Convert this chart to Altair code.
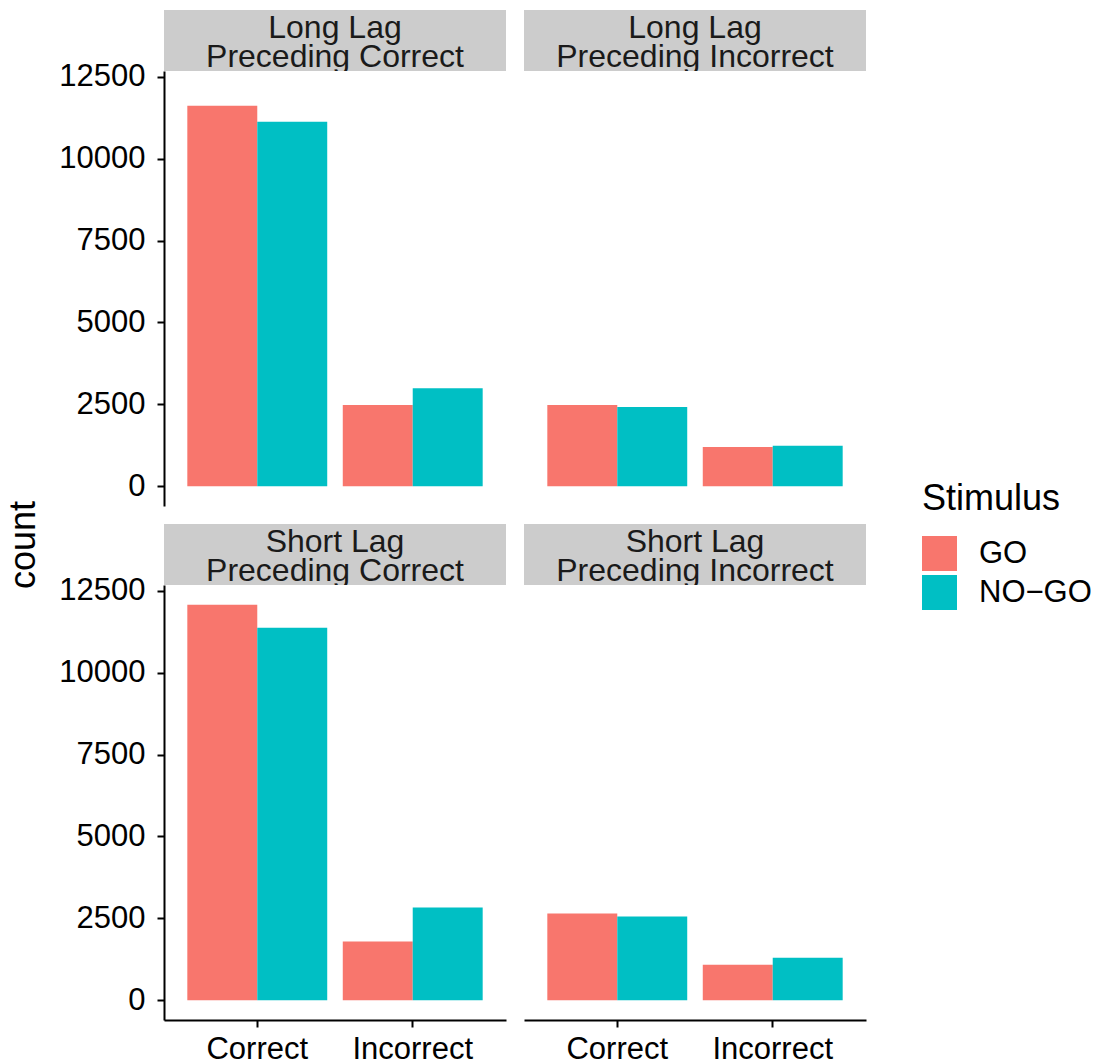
import altair as alt
import pandas as pd

FONT = "Liberation Sans"

# ---- data ----
lag_labels = ["Long Lag", "Long Lag", "Short Lag", "Short Lag"]
preceding_labels = ["Preceding Correct", "Preceding Incorrect", "Preceding Correct", "Preceding Incorrect"]
responses = ["Correct", "Incorrect"]
stimuli = ["GO", "NO-GO"]
go_counts = [[11620, 2480], [2480, 1200], [12075, 1790], [2645, 1085]]
nogo_counts = [[11130, 2990], [2420, 1235], [11375, 2830], [2555, 1300]]
y_ticks = [0, 2500, 5000, 7500, 10000, 12500]
colors = ["#F8766D", "#00BFC4"]

rows = []
for p in range(4):
    for r, resp in enumerate(responses):
        rows.append({"panel": p, "Response": resp, "Stimulus": "GO", "count": go_counts[p][r]})
        rows.append({"panel": p, "Response": resp, "Stimulus": "NO-GO", "count": nogo_counts[p][r]})
df = pd.DataFrame(rows)

ymax = max(max(max(a) for a in go_counts), max(max(a) for a in nogo_counts))
YMIN, YMAX = -0.05 * ymax, 1.05 * ymax

W = 342      # panel width
SH = 61      # strip height
PH = 435     # panel plot height

legend = alt.Legend(
    title="Stimulus", orient="none", legendX=917, legendY=472,
    titleFont=FONT, titleFontSize=36, titleFontWeight="normal", titleColor="black",
    titlePadding=18, labelFont=FONT, labelFontSize=31, labelColor="black",
    labelOffset=22, symbolType="square", symbolSize=1225, symbolStrokeWidth=0,
    symbolOpacity=1, rowPadding=4, padding=0,
    labelExpr="replace(datum.label, '-', '\u2212')",
)


def panel(i, show_y, show_x):
    d = df[df["panel"] == i]
    strip_df = pd.DataFrame({"line1": [lag_labels[i]], "line2": [preceding_labels[i]]})
    base_s = alt.Chart(strip_df).properties(width=W, height=SH)
    rect = base_s.mark_rect(color="#CCCCCC").encode(
        x=alt.value(0), x2=alt.value(W), y=alt.value(0), y2=alt.value(SH)
    )
    t1 = base_s.mark_text(font=FONT, fontSize=32, color="#1A1A1A", baseline="alphabetic",
                          align="center", clip=True).encode(
        x=alt.value(W / 2), y=alt.value(28), text="line1:N")
    t2 = base_s.mark_text(font=FONT, fontSize=32, color="#1A1A1A", baseline="alphabetic",
                          align="center", clip=True).encode(
        x=alt.value(W / 2), y=alt.value(57), text="line2:N")
    strip = alt.layer(rect, t1, t2)

    if show_y:
        yaxis = alt.Axis(values=y_ticks, format="d", title=None, labelPadding=12)
    else:
        yaxis = None
    if show_x:
        xaxis = alt.Axis(title=None, labelAngle=0, labelPadding=7)
    else:
        xaxis = None

    bars = alt.Chart(d).mark_bar().encode(
        x=alt.X("Response:N", scale=alt.Scale(domain=responses, paddingInner=0.1, paddingOuter=0.15),
                axis=xaxis),
        xOffset=alt.XOffset("Stimulus:N", scale=alt.Scale(domain=stimuli, paddingInner=0, paddingOuter=0)),
        y=alt.Y("count:Q", scale=alt.Scale(domain=[YMIN, YMAX], zero=False, nice=False), axis=yaxis),
        y2=alt.datum(0),
        color=alt.Color("Stimulus:N", scale=alt.Scale(domain=stimuli, range=colors), legend=legend),
    ).properties(width=W, height=PH)
    return alt.vconcat(strip, bars, spacing=0, bounds="flush").resolve_scale(color="shared")


top = alt.hconcat(panel(0, True, False), panel(1, False, False), spacing=18).resolve_scale(color="shared")
bottom = alt.hconcat(panel(2, True, True), panel(3, False, True), spacing=18).resolve_scale(color="shared")
grid = alt.vconcat(top, bottom, spacing=18).resolve_scale(color="shared")

count_df = pd.DataFrame({"label": ["count"]})
count_chart = alt.Chart(count_df).mark_text(
    angle=270, fontSize=36, font=FONT, baseline="alphabetic", align="center", color="black"
).encode(x=alt.value(30), y=alt.value(535), text="label:N").properties(width=40, height=2 * (SH + PH) + 18)

chart = alt.hconcat(count_chart, grid, spacing=13).resolve_scale(color="shared").properties(
    padding={"left": 5, "top": 10, "right": 5, "bottom": 0}
).configure_view(stroke=None).configure_axis(
    domainColor="black", domainWidth=2, tickColor="black", tickWidth=2, tickSize=7,
    labelFont=FONT, labelFontSize=31, labelColor="black", grid=False,
).configure_concat(spacing=0)

chart.save("out.html", embed_options={"renderer": "svg", "actions": False})
